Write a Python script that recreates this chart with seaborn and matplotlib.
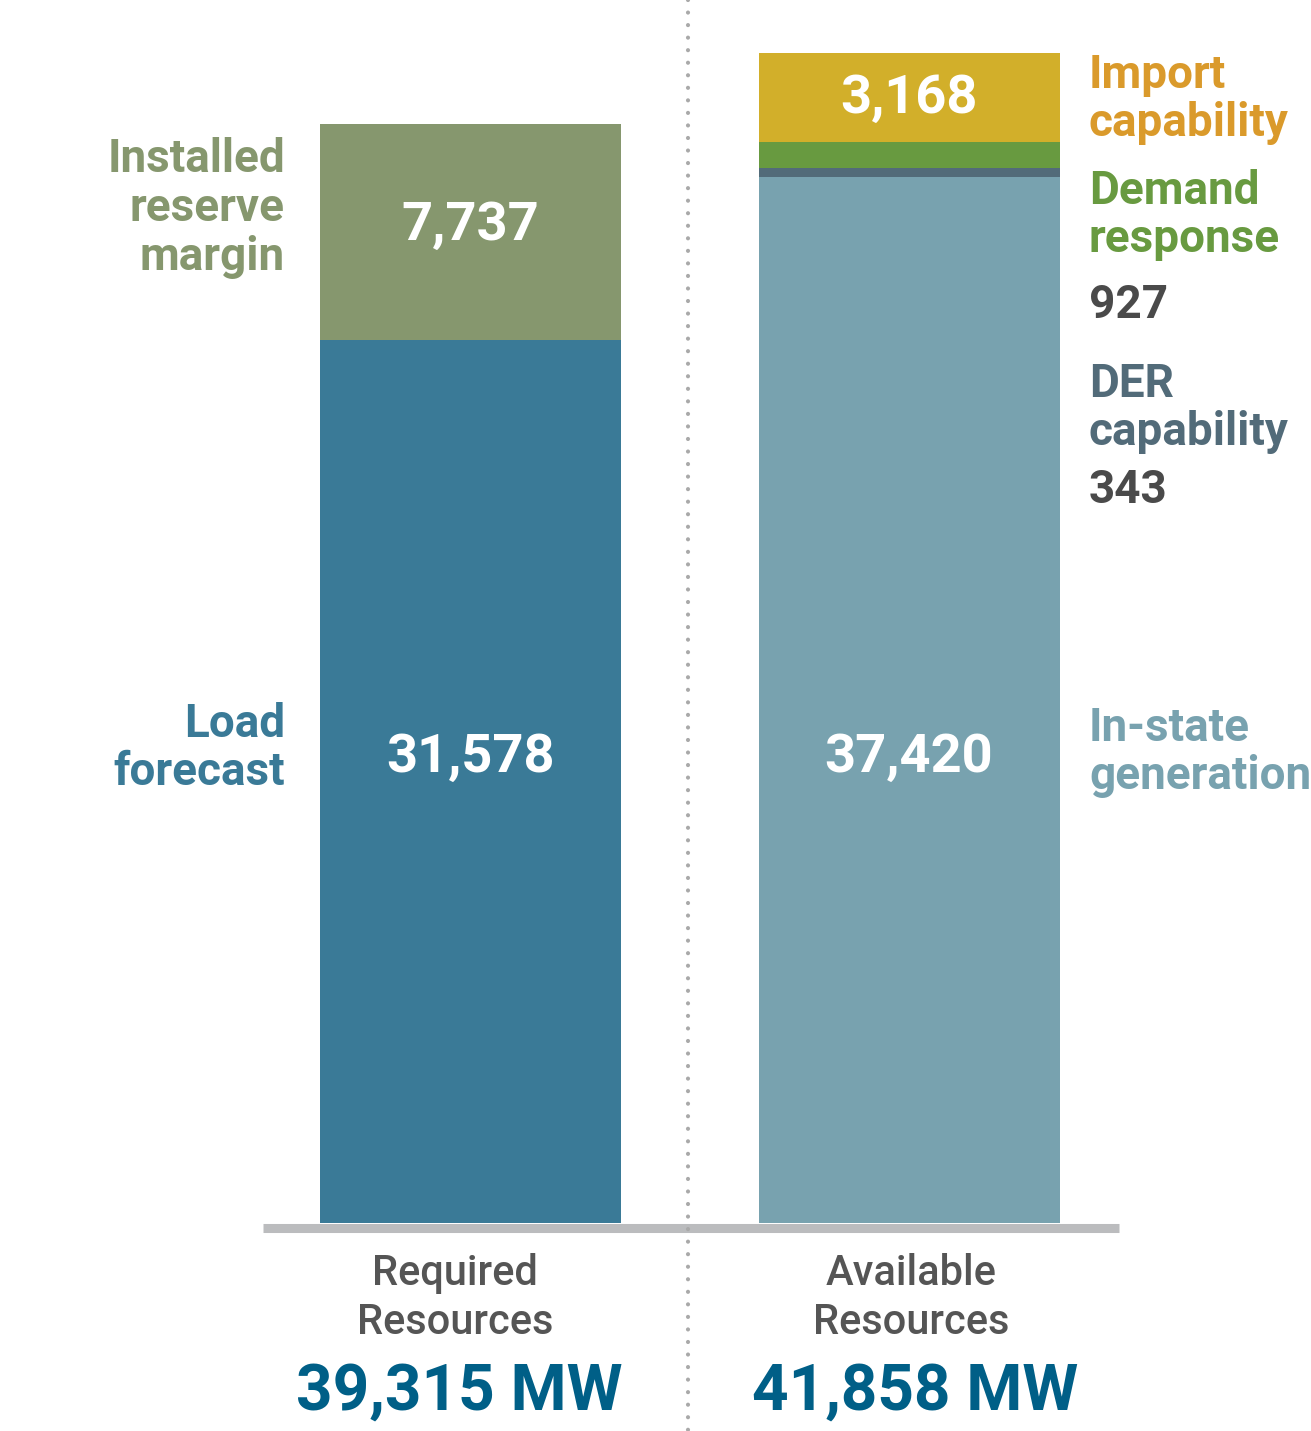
import numpy as np
import pandas as pd
import seaborn as sns
import matplotlib.pyplot as plt

# ============================== DATA ==============================

categories      = ["Required Resources", "Available Resources"]
totals_text     = ["39,315 MW", "41,858 MW"]

required_parts  = ["Load forecast", "Installed reserve margin"]
required_values = [31578, 7737]
required_colors = ["#3A7A97", "#86976E"]

available_parts  = ["In-state generation", "DER capability", "Demand response", "Import capability"]
available_values = [37420, 343, 927, 3168]
available_colors = ["#78A2AF", "#526B79", "#689A40", "#D2AF2A"]

# ============================== LAYOUT ==============================

W, H = 1311, 1431
BASE_PX = 1223          # baseline, pixels from top
MW_PER_PX = 35.78
CENTER0, STEP = 470.5, 438.5

rows = []
for cat, parts, vals, cols in [(categories[0], required_parts, required_values, required_colors),
                               (categories[1], available_parts, available_values, available_colors)]:
    cum = np.cumsum(vals)
    for p, v, c, top in zip(parts, vals, cols, cum):
        rows.append({"category": cat, "part": p, "value": v, "top": top, "color": c})
df = pd.DataFrame(rows)

sns.set_theme(style="white")
plt.rcParams["font.family"] = ["Roboto", "DejaVu Sans"]

fig = plt.figure(figsize=(W / 100, H / 100), dpi=100)
ax = fig.add_axes([0, 0, 1, 1])

# draw cumulative tops from the highest layer down so they stack
for cat in categories:
    sub = df[df["category"] == cat].sort_values("top", ascending=False)
    for _, r in sub.iterrows():
        sns.barplot(x=[cat], y=[r["top"]], order=categories, color=r["color"],
                    saturation=1, width=301 / STEP, ax=ax, linewidth=0)

ax.set_xlim(-CENTER0 / STEP, (W - CENTER0) / STEP)
ax.set_ylim(-(H - BASE_PX) * MW_PER_PX, BASE_PX * MW_PER_PX)
ax.axis("off")

def px_x(x): return (x - CENTER0) / STEP
def px_y(y): return (BASE_PX - y) * MW_PER_PX

# baseline and divider
ax.plot([px_x(263), px_x(1119)], [px_y(1227.5)] * 2, color="#BBBCBE", lw=6.5,
        solid_capstyle="butt", zorder=5)
ax.plot([px_x(688)] * 2, [px_y(0), px_y(H)], color="#A9A9A9", lw=3,
        linestyle=(0, (0.01, 3.0)), dash_capstyle="round", zorder=6)

# value labels inside bars
def fmt(v): return f"{v:,}"
ax.text(0, px_y(225), fmt(required_values[1]), ha="center", va="center",
        color="white", fontsize=39, fontweight="bold")
ax.text(0, px_y(757), fmt(required_values[0]), ha="center", va="center",
        color="white", fontsize=39, fontweight="bold")
ax.text(1, px_y(98), fmt(available_values[3]), ha="center", va="center",
        color="white", fontsize=39, fontweight="bold")
ax.text(1, px_y(757), fmt(available_values[0]), ha="center", va="center",
        color="white", fontsize=39, fontweight="bold")

# side labels
def label(x, y, s, color, ha):
    ax.text(px_x(x), px_y(y), s, ha=ha, va="center", color=color,
            fontsize=33, fontweight="bold", linespacing=1.13)

label(285, 208, "Installed\nreserve\nmargin", "#86976E", "right")
label(285, 748, "Load\nforecast", "#3A7A97", "right")
label(1089, 99, "Import\ncapability", "#DA9A2B", "left")
label(1089, 215, "Demand\nresponse", "#689A40", "left")
label(1089, 305, fmt(available_values[2]), "#4A4A4A", "left")
label(1089, 408, "DER\ncapability", "#526B79", "left")
label(1089, 490, fmt(available_values[1]), "#4A4A4A", "left")
label(1089, 752, "In-state\ngeneration", "#78A2AF", "left")

# category labels and totals
label_dx = [-0.035, 0.005]
total_dx = [-0.026, 0.014]
for i, cat in enumerate(categories):
    ax.text(i + label_dx[i], px_y(1298), cat.replace(" ", "\n"), ha="center", va="center",
            color="#555555", fontsize=30, fontweight="medium", linespacing=1.22)
    ax.text(i + total_dx[i], px_y(1392), totals_text[i], ha="center", va="center",
            color="#005F87", fontsize=46, fontweight="bold")

fig.savefig("out.png", dpi=100)
